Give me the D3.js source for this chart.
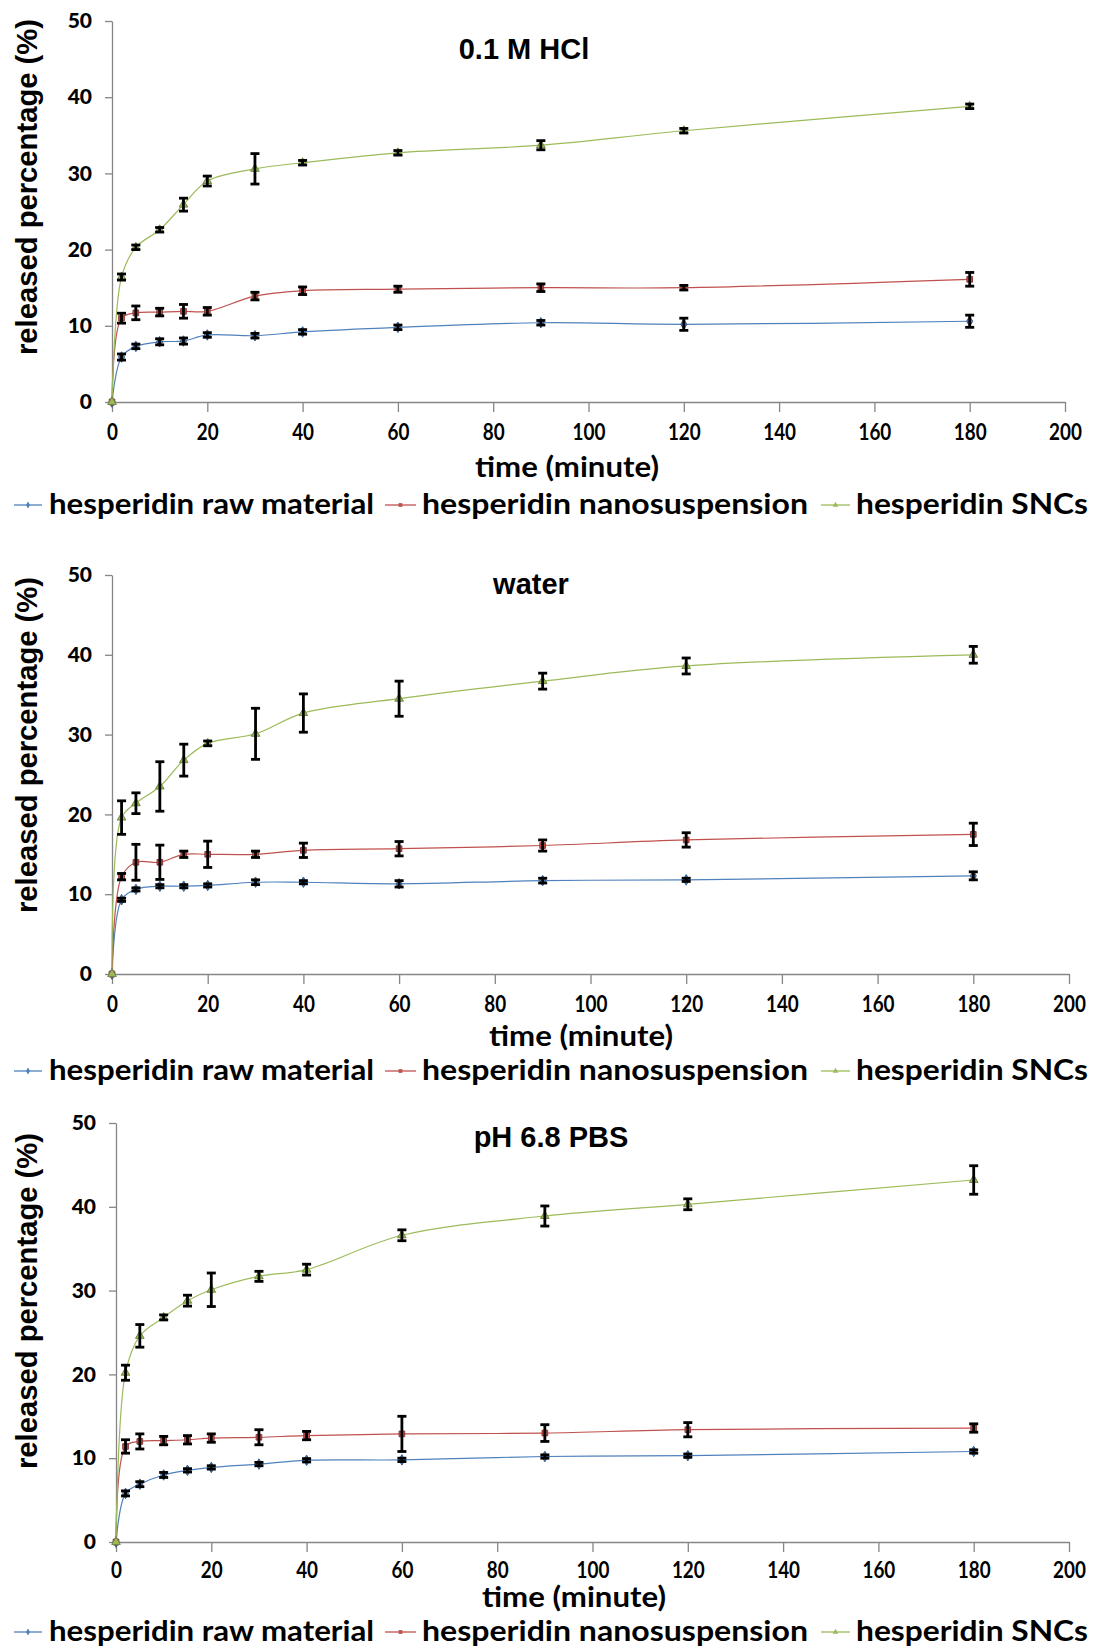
<!DOCTYPE html>
<html>
<head>
<meta charset="utf-8">
<script src="https://cdn.jsdelivr.net/npm/d3@7"></script>
<style>
body { margin: 0; background: #fff; }
text { font-family: Lato, "Liberation Sans", sans-serif; font-weight: bold; fill: #000; }
</style>
</head>
<body>
<script>
// time points (minute)
var times = [0, 2, 5, 10, 15, 20, 30, 40, 60, 90, 120, 180];
var seriesNames = ["hesperidin raw material", "hesperidin nanosuspension", "hesperidin SNCs"];
var seriesColors = ["#4F81BD", "#C0504D", "#9BBB59"];
var markerStroke = ["#385D8A", "#8C3836", "#71893F"];
var xTicks = [0, 20, 40, 60, 80, 100, 120, 140, 160, 180, 200];
var yTicks = [0, 10, 20, 30, 40, 50];
var panelTitles = ["0.1 M HCl", "water", "pH 6.8 PBS"];

// 0.1 M HCl
var hclRaw     = [0, 5.9, 7.3, 7.9, 8.0, 8.8, 8.7, 9.2, 9.8, 10.4, 10.2, 10.6];
var hclRawErr  = [0, 0.4, 0.3, 0.4, 0.4, 0.3, 0.3, 0.3, 0.3, 0.3, 0.8, 0.8];
var hclNano    = [0, 11.0, 11.7, 11.8, 11.9, 11.9, 13.9, 14.6, 14.8, 15.0, 15.0, 16.1];
var hclNanoErr = [0, 0.65, 0.9, 0.5, 0.9, 0.5, 0.5, 0.5, 0.4, 0.5, 0.3, 0.9];
var hclSnc     = [0, 16.4, 20.3, 22.6, 25.9, 29.0, 30.6, 31.4, 32.7, 33.7, 35.6, 38.8];
var hclSncErr  = [0, 0.4, 0.3, 0.3, 0.85, 0.65, 2.0, 0.3, 0.3, 0.6, 0.3, 0.3];

// water
var waterRaw     = [0, 9.3, 10.6, 11.0, 11.0, 11.1, 11.5, 11.5, 11.3, 11.7, 11.8, 12.3];
var waterRawErr  = [0, 0.2, 0.2, 0.2, 0.2, 0.2, 0.3, 0.2, 0.4, 0.3, 0.2, 0.5];
var waterNano    = [0, 12.2, 14.0, 14.0, 15.0, 15.0, 15.0, 15.5, 15.7, 16.1, 16.8, 17.5];
var waterNanoErr = [0, 0.4, 2.25, 2.15, 0.4, 1.65, 0.4, 0.9, 0.9, 0.7, 0.9, 1.4];
var waterSnc     = [0, 19.6, 21.4, 23.5, 26.8, 28.9, 30.1, 32.7, 34.5, 36.7, 38.6, 40.0];
var waterSncErr  = [0, 2.1, 1.3, 3.1, 2.0, 0.3, 3.2, 2.4, 2.2, 1.0, 1.0, 1.05];

// pH 6.8 PBS
var pbsRaw     = [0, 5.8, 6.9, 8.0, 8.55, 8.9, 9.3, 9.75, 9.8, 10.2, 10.3, 10.8];
var pbsRawErr  = [0, 0.3, 0.3, 0.3, 0.2, 0.2, 0.2, 0.2, 0.2, 0.2, 0.2, 0.2];
var pbsNano    = [0, 11.4, 12.0, 12.1, 12.2, 12.4, 12.5, 12.7, 12.9, 13.0, 13.4, 13.6];
var pbsNanoErr = [0, 0.8, 0.9, 0.5, 0.5, 0.5, 0.9, 0.5, 2.1, 1.0, 0.85, 0.5];
var pbsSnc     = [0, 20.2, 24.6, 26.8, 28.8, 30.1, 31.7, 32.5, 36.6, 38.9, 40.3, 43.2];
var pbsSncErr  = [0, 0.9, 1.35, 0.3, 0.65, 2.0, 0.6, 0.65, 0.65, 1.2, 0.65, 1.7];

var svg = d3.select("body").append("svg")
  .attr("width", 1093)
  .attr("height", 1647);

// layout of the three stacked charts
var panels = [
  { title: panelTitles[0], values: [hclRaw, hclNano, hclSnc], errs: [hclRawErr, hclNanoErr, hclSncErr],
    left: 112, right: 1065, top: 21, bottom: 402, tickPad: 12, titleX: 524, titleY: 59, yTitleY: 187, xTitleX: 567, xTitleY: 477, legendY: 514 },
  { title: panelTitles[1], values: [waterRaw, waterNano, waterSnc], errs: [waterRawErr, waterNanoErr, waterSncErr],
    left: 112, right: 1069, top: 575, bottom: 974, tickPad: 12, titleX: 531, titleY: 594, yTitleY: 745, xTitleX: 581, xTitleY: 1046, legendY: 1080 },
  { title: panelTitles[2], values: [pbsRaw, pbsNano, pbsSnc], errs: [pbsRawErr, pbsNanoErr, pbsSncErr],
    left: 116, right: 1069, top: 1123, bottom: 1542, tickPad: 10, titleX: 551, titleY: 1147, yTitleY: 1301, xTitleX: 574, xTitleY: 1607, legendY: 1641 }
];

var legendLines = [[14, 42], [385, 416], [821, 850]];
var legendText = [[49, 325], [422, 386], [856, 232]];
var symbols = [d3.symbolDiamond, d3.symbolSquare, d3.symbolTriangle];

panels.forEach(function(p) {
  var x = d3.scaleLinear().domain([0, 200]).range([p.left, p.right]);
  var y = d3.scaleLinear().domain([0, 50]).range([p.bottom, p.top]);

  var g = svg.append("g");

  // axes
  var xAxis = g.append("g")
    .attr("transform", `translate(0, ${p.bottom})`)
    .call(d3.axisBottom(x).tickValues(xTicks).tickSize(10).tickSizeOuter(0).tickPadding(p.tickPad));
  xAxis.selectAll("text")
    .style("font-size", "23px")
    .attr("transform", "scale(0.82,1)");

  var yAxis = g.append("g")
    .attr("transform", `translate(${p.left}, 0)`)
    .call(d3.axisLeft(y).tickValues(yTicks).tickSize(7).tickSizeOuter(0).tickPadding(13));
  yAxis.selectAll("text").style("font-size", "21px").style("font-weight", "900");

  g.selectAll(".domain, .tick line")
    .attr("stroke", "#868686")
    .attr("stroke-width", 1.3);

  // lines
  var line = d3.line()
    .x(function(d, i) { return x(times[i]); })
    .y(function(d) { return y(d); })
    .curve(d3.curveCatmullRom.alpha(0.5));

  p.values.forEach(function(vals, s) {
    g.append("path")
      .datum(vals)
      .attr("d", line)
      .attr("fill", "none")
      .attr("stroke", seriesColors[s])
      .attr("stroke-width", 1.2);
  });

  // markers
  p.values.forEach(function(vals, s) {
    g.selectAll(null)
      .data(vals)
      .enter().append("path")
      .attr("transform", function(d, i) { return `translate(${x(times[i])}, ${y(d)})`; })
      .attr("d", d3.symbol().type(symbols[s]).size(32))
      .attr("fill", seriesColors[s])
      .attr("stroke", markerStroke[s])
      .attr("stroke-width", 1);
  });

  // error bars
  p.values.forEach(function(vals, s) {
    var errs = p.errs[s];
    vals.forEach(function(v, i) {
      if (!errs[i]) return;
      var cx = x(times[i]);
      var eb = g.append("g").attr("stroke", "#000").attr("stroke-width", 2.8);
      eb.append("line").attr("x1", cx).attr("x2", cx)
        .attr("y1", y(v - errs[i])).attr("y2", y(v + errs[i]));
      eb.append("line").attr("x1", cx - 4.5).attr("x2", cx + 4.5)
        .attr("y1", y(v - errs[i])).attr("y2", y(v - errs[i]));
      eb.append("line").attr("x1", cx - 4.5).attr("x2", cx + 4.5)
        .attr("y1", y(v + errs[i])).attr("y2", y(v + errs[i]));
    });
  });

  // titles
  g.append("text")
    .attr("x", p.titleX).attr("y", p.titleY)
    .attr("text-anchor", "middle")
    .style("font-family", "'Liberation Sans', Arial, sans-serif")
    .style("font-size", "29px")
    .text(p.title);

  g.append("text")
    .attr("transform", `translate(37, ${p.yTitleY}) rotate(-90)`)
    .attr("text-anchor", "middle")
    .style("font-family", "'Liberation Sans', Arial, sans-serif")
    .style("font-size", "30px")
    .attr("textLength", 336)
    .attr("lengthAdjust", "spacingAndGlyphs")
    .text("released percentage (%)");

  g.append("text")
    .attr("x", p.xTitleX).attr("y", p.xTitleY)
    .attr("text-anchor", "middle")
    .style("font-size", "28px")
    .attr("textLength", 184)
    .attr("lengthAdjust", "spacingAndGlyphs")
    .text("time (minute)");

  // legend
  seriesNames.forEach(function(name, s) {
    var ly = p.legendY - 9;
    g.append("line")
      .attr("x1", legendLines[s][0]).attr("x2", legendLines[s][1])
      .attr("y1", ly).attr("y2", ly)
      .attr("stroke", seriesColors[s])
      .attr("stroke-width", 1.3);
    g.append("path")
      .attr("transform", `translate(${(legendLines[s][0] + legendLines[s][1]) / 2}, ${ly})`)
      .attr("d", d3.symbol().type(symbols[s]).size(14))
      .attr("fill", seriesColors[s]);
    g.append("text")
      .attr("x", legendText[s][0]).attr("y", p.legendY)
      .style("font-size", "29px")
      .attr("textLength", legendText[s][1])
      .attr("lengthAdjust", "spacingAndGlyphs")
      .text(name);
  });
});
</script>
</body>
</html>
